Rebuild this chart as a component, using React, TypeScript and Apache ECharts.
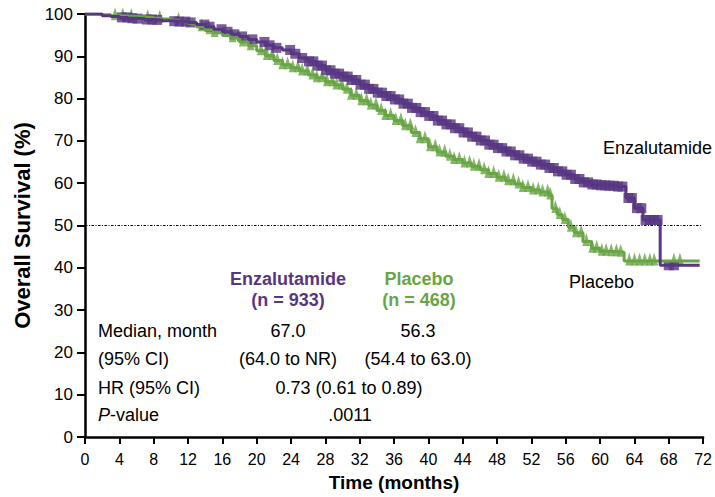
import React, { useEffect, useRef } from "react";
import * as echarts from "echarts";

// Kaplan–Meier step points: time (months) and overall survival (%)
const enzaTime = [0,1,2,3,4,5,6,7,8,9,10,11,12,13,14,15,16,17,18,19,20,21,22,23,24,25,26,27,28,29,30,31,32,33,34,35,36,37,38,39,40,41,42,43,44,45,46,47,48,49,50,51,52,53,54,55,56,57,58,59,60,61,62,63,64,65,67.0,71.6];
const enzaSurv = [100,100,99.6,99.4,99.2,99.0,98.9,98.7,98.6,98.4,98.3,98.2,98.0,97.5,97.0,96.4,95.8,95.2,94.7,94.0,93.4,92.6,92.0,91.5,90.6,89.6,88.8,87.8,86.7,85.9,85.2,84.4,83.3,82.3,81.4,80.6,79.8,78.8,77.8,76.8,75.9,74.8,73.9,73.0,72.0,71.0,70.1,69.1,68.3,67.5,66.6,65.8,65.1,64.4,63.6,62.8,62.0,61.0,60.2,59.7,59.5,59.4,59.2,56.5,54.1,51.3,40.6,40.6];

const placeboTime = [0,1,2,3,4,5,6,7,8,9,10,11,12,13,14,15,16,17,18,19,20,21,22,23,24,25,26,27,28,29,30,31,32,33,34,35,36,37,38,39,40,41,42,43,44,45,46,47,48,49,50,51,52,53,54,54.4,55,55.6,56.3,57,58,59,60,61,62,62.8,71.6];
const placeboSurv = [100,100,99.8,99.6,99.5,99.4,99.3,99.2,99.0,98.8,98.5,98.2,97.8,97.0,96.3,95.6,95.0,94.4,93.4,92.5,91.3,90.2,89.0,88.0,87.3,86.5,85.6,84.9,84.0,83.2,82.2,80.8,79.5,78.5,77.2,76.0,74.8,73.6,72.0,70.5,68.6,67.4,66.4,65.6,64.8,64.0,63.2,62.3,61.4,60.6,59.8,59.0,58.4,57.9,57.2,54.0,52.6,51.4,49.6,48.3,46.2,44.6,43.9,43.8,43.7,41.6,41.6];

// Censoring times (months)
const enzaCensor = [4.3,4.9,5.5,6.1,7.2,7.8,8.4,10.4,11.0,11.7,12.3,13.9,14.5,15.9,16.6,17.4,18.3,19.5,20.9,21.5,22.3,23.9,24.5,25.3,26.1,26.6,27.1,27.6,28.1,28.6,29.1,29.6,30.1,30.6,31.1,31.6,32.1,32.6,33.1,33.6,34.1,34.6,35.1,35.6,36.1,36.6,37.1,37.6,38.1,38.6,39.1,39.6,40.1,40.6,41.1,41.6,42.1,42.6,43.1,43.6,44.1,44.6,45.1,45.6,46.1,46.6,47.1,47.6,48.1,48.6,49.1,49.6,50.1,50.6,51.1,51.6,52.1,52.6,53.1,53.6,54.1,54.6,55.1,55.6,56.1,56.6,57.1,57.6,58.1,58.6,59.1,59.6,60.1,60.6,61.1,61.6,62.1,62.6,63.3,63.7,64.3,64.8,65.3,65.8,66.3,66.7,68.0,68.6];
const placeboCensor = [3.5,4.4,5.4,7.3,8.7,10.9,13.6,14.5,15.1,17.2,18.4,19.3,20.5,21.2,21.8,22.4,23.0,23.6,24.2,24.8,25.3,25.9,26.5,27.0,27.6,28.2,28.8,29.3,29.9,30.5,31.0,31.6,32.2,32.8,33.3,33.9,34.5,35.0,35.6,36.2,36.8,37.3,37.9,38.5,39.0,39.6,40.2,40.8,41.3,41.9,42.5,43.0,43.6,44.2,44.8,45.3,45.9,46.5,47.0,47.6,48.2,48.8,49.3,49.9,50.5,51.0,51.6,52.2,52.8,53.3,53.9,54.2,54.8,55.3,55.9,56.6,57.2,57.8,58.4,59.1,59.6,60.2,60.7,61.3,61.9,62.4,63.4,64.0,64.6,65.2,65.8,66.3,68.6,69.3];

const PURPLE = "#573682";
const GREEN = "#68a544";
const FONT = "Liberation Sans, Arial, sans-serif";

const pairs = (t: number[], s: number[]) => t.map((v, i) => [v, s[i]]);

// survival at time t from the step function (value holds until the next event)
const survAt = (t: number, times: number[], surv: number[]) => {
  let v = surv[0];
  for (let i = 0; i < times.length; i++) {
    if (times[i] <= t) v = surv[i];
    else break;
  }
  return v;
};

export default function App() {
  const ref = useRef<HTMLDivElement>(null);

  useEffect(() => {
    if (!ref.current) return;
    const chart = echarts.init(ref.current, undefined, { renderer: "svg" });

    const txt = (
      text: string,
      x: number,
      y: number,
      opts: { align?: string; color?: string; bold?: boolean; italic?: boolean } = {}
    ) => ({
      type: "text",
      x,
      y,
      style: {
        text,
        fill: opts.color || "#000",
        font: `${opts.italic ? "italic " : ""}${opts.bold ? "bold " : ""}18px ${FONT}`,
        textAlign: opts.align || "center",
        textVerticalAlign: "middle",
      },
    });

    chart.setOption({
      animation: false,
      backgroundColor: "#fff",
      grid: { left: 85, right: 11, top: 14, bottom: 60 },
      xAxis: {
        type: "value",
        min: 0,
        max: 72,
        interval: 4,
        name: "Time (months)",
        nameLocation: "middle",
        nameGap: 36,
        nameTextStyle: { fontFamily: FONT, fontSize: 19, fontWeight: "bold", color: "#000" },
        axisLine: { lineStyle: { color: "#000", width: 2.5 } },
        axisTick: { length: 7, lineStyle: { color: "#000", width: 2 } },
        axisLabel: { fontFamily: FONT, fontSize: 16, color: "#000", margin: 14 },
        splitLine: { show: false },
      },
      yAxis: {
        type: "value",
        min: 0,
        max: 100,
        interval: 10,
        name: "Overall Survival (%)",
        nameLocation: "middle",
        nameRotate: 90,
        nameGap: 50,
        nameTextStyle: { fontFamily: FONT, fontSize: 22, fontWeight: "bold", color: "#000" },
        axisLine: { show: true, lineStyle: { color: "#000", width: 2.5 } },
        axisTick: { show: true, length: 8, lineStyle: { color: "#000", width: 2 } },
        axisLabel: { fontFamily: FONT, fontSize: 17, color: "#000", margin: 12 },
        splitLine: { show: false },
      },
      series: [
        {
          type: "line",
          data: [[0, 50], [71.8, 50]],
          showSymbol: false,
          lineStyle: { color: "#000", width: 1.2, type: [2.5, 1.5, 1, 1.5] },
          silent: true,
        },
        {
          name: "Placebo",
          type: "line",
          step: "end",
          data: pairs(placeboTime, placeboSurv),
          showSymbol: false,
          lineStyle: { color: GREEN, width: 3 },
        },
        {
          type: "scatter",
          data: placeboCensor.map((t) => [t, survAt(t, placeboTime, placeboSurv)]),
          symbol: "triangle",
          symbolSize: [8, 13],
          symbolOffset: [0, -2],
          itemStyle: { color: GREEN },
        },
        {
          name: "Enzalutamide",
          type: "line",
          step: "end",
          data: pairs(enzaTime, enzaSurv),
          showSymbol: false,
          lineStyle: { color: PURPLE, width: 3 },
        },
        {
          type: "scatter",
          data: enzaCensor.map((t) => [t, survAt(t, enzaTime, enzaSurv)]),
          symbol: "rect",
          symbolSize: 10,
          itemStyle: { color: PURPLE },
        },
      ],
      graphic: [
        txt("Enzalutamide", 603, 148, { align: "left" }),
        txt("Placebo", 569, 282, { align: "left" }),
        txt("Enzalutamide", 288, 279, { color: PURPLE, bold: true }),
        txt("(n = 933)", 288, 300, { color: PURPLE, bold: true }),
        txt("Placebo", 419, 279, { color: GREEN, bold: true }),
        txt("(n = 468)", 419, 300, { color: GREEN, bold: true }),
        txt("Median, month", 98, 331, { align: "left" }),
        txt("67.0", 288, 331),
        txt("56.3", 418, 331),
        txt("(95% CI)", 98, 359, { align: "left" }),
        txt("(64.0 to NR)", 288, 359),
        txt("(54.4 to 63.0)", 418, 359),
        txt("HR (95% CI)", 98, 388, { align: "left" }),
        txt("0.73 (0.61 to 0.89)", 349, 388),
        txt("P", 98, 415, { align: "left", italic: true }),
        txt("-value", 110, 415, { align: "left" }),
        txt(".0011", 350, 415),
      ],
    });

    return () => chart.dispose();
  }, []);

  return (
    <div
      ref={ref}
      style={{ position: "fixed", left: 0, top: 0, width: 715, height: 497, background: "#fff" }}
    />
  );
}
